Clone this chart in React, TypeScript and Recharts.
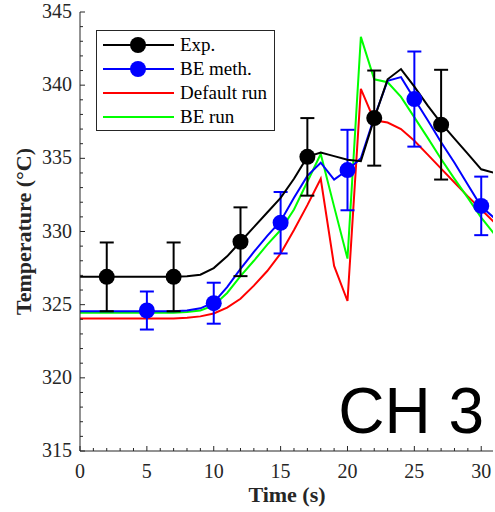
import React from 'react';
import { ComposedChart, Line, Scatter, XAxis, YAxis, ErrorBar, Customized } from 'recharts';

// Time axis (s) for the simulated / fitted curves
const times = [0, 1, 2, 3, 4, 5, 6, 7, 8, 9, 10, 11, 12, 13, 14, 15, 16, 17, 18, 19, 20, 21, 22, 23, 24, 25, 26, 27, 28, 29, 30, 31];
// Exp. continuous curve (black)
const expLine = [326.9, 326.9, 326.9, 326.9, 326.9, 326.9, 326.9, 326.9, 326.95, 327.05, 327.5, 328.3, 329.3, 330.3, 331.3, 332.3, 333.6, 335.1, 335.4, 335.15, 334.9, 334.8, 337.7, 340.4, 341.1, 339.9, 338.6, 337.4, 336.35, 335.3, 334.25, 334.0];
// BE meth. curve (blue)
const beMethLine = [324.55, 324.55, 324.55, 324.55, 324.55, 324.55, 324.55, 324.55, 324.6, 324.75, 325.15, 326.2, 327.45, 328.6, 329.7, 330.7, 332.3, 333.8, 334.7, 333.55, 334.2, 335.0, 337.8, 340.3, 340.55, 339.05, 337.6, 336.1, 334.7, 333.2, 331.7, 330.9];
// Default run (red)
const defaultRun = [324.05, 324.05, 324.05, 324.05, 324.05, 324.05, 324.05, 324.05, 324.1, 324.2, 324.4, 324.8, 325.4, 326.3, 327.3, 328.5, 330.1, 331.8, 333.6, 327.65, 325.25, 339.75, 337.6, 337.45, 337.0, 336.2, 335.25, 334.3, 333.35, 332.4, 331.5, 330.6];
// BE run (green)
const beRun = [324.45, 324.45, 324.45, 324.45, 324.45, 324.45, 324.45, 324.45, 324.5, 324.6, 324.95, 325.8, 326.95, 328.0, 329.1, 330.1, 331.5, 333.4, 335.3, 331.7, 328.15, 343.3, 340.4, 340.2, 339.2, 337.8, 336.4, 334.95, 333.6, 332.3, 330.95, 329.8];

// Measured points with error bars
const expTimes = [2, 7, 12, 17, 22, 27];
const expValues = [326.9, 326.9, 329.3, 335.1, 337.75, 337.3];
const expErrors = [2.35, 2.35, 2.35, 2.65, 3.25, 3.75];

const beTimes = [5, 10, 15, 20, 25, 30];
const beValues = [324.6, 325.1, 330.6, 334.2, 339.05, 331.75];
const beErrors = [1.3, 1.4, 2.1, 2.75, 3.25, 2.0];

const xTicks = Array.from({ length: 31 }, (_, i) => i); // 0..30
const yTicks = Array.from({ length: 31 }, (_, i) => 315 + i); // 315..345

const legendLabels = ['Exp.', 'BE meth.', 'Default run', 'BE run'];
const legendColors = ['#000000', '#0000ff', '#ff0000', '#00ff00'];
const legendMarkers = [true, true, false, false];

const toLine = (vals: number[]) => times.map((t, i) => ({ t, v: vals[i] }));
const toPts = (ts: number[], vs: number[], es: number[]) => ts.map((t, i) => ({ t, v: vs[i], e: es[i] }));

const AX = '#262626';
const SERIF = '"Liberation Serif", "Times New Roman", serif';

const BottomTick = (props: any) => {
  const { x, y, payload } = props;
  const v = payload.value;
  const major = v % 5 === 0;
  return (
    <g>
      <line x1={x} x2={x} y1={y} y2={y - (major ? 5 : 3)} stroke={AX} strokeWidth={1} />
      {major && (
        <text x={x} y={y + 26.5} textAnchor="middle" fontSize={20} fontFamily={SERIF} fill={AX}>
          {v}
        </text>
      )}
    </g>
  );
};

const TopTick = (props: any) => {
  const { x, y, payload } = props;
  const major = payload.value % 5 === 0;
  return <line x1={x} x2={x} y1={y} y2={y + (major ? 5 : 3)} stroke={AX} strokeWidth={1} />;
};

const LeftTick = (props: any) => {
  const { x, y, payload } = props;
  const v = payload.value;
  const major = v % 5 === 0;
  return (
    <g>
      <line x1={x} x2={x + (major ? 5 : 3)} y1={y} y2={y} stroke={AX} strokeWidth={1} />
      {major && (
        <text x={x - 8} y={y + 6} textAnchor="end" fontSize={20} fontFamily={SERIF} fill={AX}>
          {v}
        </text>
      )}
    </g>
  );
};

const RightTick = (props: any) => {
  const { x, y, payload } = props;
  const major = payload.value % 5 === 0;
  return <line x1={x} x2={x - (major ? 5 : 3)} y1={y} y2={y} stroke={AX} strokeWidth={1} />;
};

const Decorations = () => {
  const rowY = [45, 69, 93, 117];
  return (
    <g>
      <text
        transform="translate(31, 231.5) rotate(-90)"
        textAnchor="middle"
        fontSize={22}
        fontWeight="bold"
        fontFamily={SERIF}
        fill={AX}
      >
        Temperature (°C)
      </text>
      <text x={287} y={502} textAnchor="middle" fontSize={22} fontWeight="bold" fontFamily={SERIF} fill={AX}>
        Time (s)
      </text>
      <text
        x={484}
        y={432.5}
        textAnchor="end"
        fontSize={64}
        fontFamily='"Liberation Sans", Arial, sans-serif'
        fill="#000"
      >
        CH 3
      </text>
      <rect x={96.5} y={30.5} width={178} height={100} fill="#fff" stroke={AX} strokeWidth={1} />
      {legendLabels.map((lab, i) => (
        <g key={lab}>
          <line x1={103} x2={174} y1={rowY[i]} y2={rowY[i]} stroke={legendColors[i]} strokeWidth={2} />
          {legendMarkers[i] && <circle cx={138} cy={rowY[i]} r={8} fill={legendColors[i]} />}
          <text x={180} y={rowY[i] + 6.3} fontSize={19} fontFamily={SERIF} fill="#000">
            {lab}
          </text>
        </g>
      ))}
    </g>
  );
};

const Dot = (color: string) => (props: any) => {
  const { cx, cy } = props;
  if (cx == null || cy == null) return null;
  return <circle cx={cx} cy={cy} r={8} fill={color} />;
};

export default function App() {
  const xDomain: [number, number] = [0, 30.88];
  const yDomain: [number, number] = [315, 345];
  return (
    <div style={{ position: 'absolute', left: 0, top: 0, background: '#fff' }}>
      <ComposedChart width={495} height={512} margin={{ top: 12, right: 2, bottom: 0, left: 0 }}>
        <XAxis
          xAxisId="b"
          dataKey="t"
          type="number"
          orientation="bottom"
          domain={xDomain}
          allowDataOverflow
          ticks={xTicks}
          interval={0}
          height={61}
          tickSize={0}
          tickMargin={0}
          tickLine={false}
          tick={<BottomTick />}
          axisLine={{ stroke: AX, strokeWidth: 1 }}
        />
        <XAxis
          xAxisId="t"
          type="number"
          orientation="top"
          domain={xDomain}
          allowDataOverflow
          ticks={xTicks}
          interval={0}
          height={0}
          tickSize={0}
          tickMargin={0}
          tickLine={false}
          tick={<TopTick />}
          axisLine={{ stroke: AX, strokeWidth: 1 }}
        />
        <YAxis
          yAxisId="l"
          dataKey="v"
          type="number"
          orientation="left"
          domain={yDomain}
          allowDataOverflow
          ticks={yTicks}
          interval={0}
          width={80}
          tickSize={0}
          tickMargin={0}
          tickLine={false}
          tick={<LeftTick />}
          axisLine={{ stroke: AX, strokeWidth: 1 }}
        />
        <YAxis
          yAxisId="r"
          type="number"
          orientation="right"
          domain={yDomain}
          allowDataOverflow
          ticks={yTicks}
          interval={0}
          width={0}
          tickSize={0}
          tickMargin={0}
          tickLine={false}
          tick={<RightTick />}
          axisLine={{ stroke: AX, strokeWidth: 1 }}
        />
        <Line
          xAxisId="b"
          yAxisId="l"
          data={toLine(defaultRun)}
          dataKey="v"
          type="linear"
          stroke="#ff0000"
          strokeWidth={2}
          dot={false}
          activeDot={false}
          isAnimationActive={false}
        />
        <Line
          xAxisId="b"
          yAxisId="l"
          data={toLine(beRun)}
          dataKey="v"
          type="linear"
          stroke="#00ff00"
          strokeWidth={2}
          dot={false}
          activeDot={false}
          isAnimationActive={false}
        />
        <Line
          xAxisId="b"
          yAxisId="l"
          data={toLine(beMethLine)}
          dataKey="v"
          type="linear"
          stroke="#0000ff"
          strokeWidth={2}
          dot={false}
          activeDot={false}
          isAnimationActive={false}
        />
        <Scatter
          xAxisId="b"
          yAxisId="l"
          data={toPts(beTimes, beValues, beErrors)}
          dataKey="v"
          fill="#0000ff"
          shape={Dot('#0000ff')}
          isAnimationActive={false}
        >
          <ErrorBar dataKey="e" direction="y" width={7} stroke="#0000ff" strokeWidth={2} isAnimationActive={false} />
        </Scatter>
        <Line
          xAxisId="b"
          yAxisId="l"
          data={toLine(expLine)}
          dataKey="v"
          type="linear"
          stroke="#000000"
          strokeWidth={2}
          dot={false}
          activeDot={false}
          isAnimationActive={false}
        />
        <Scatter
          xAxisId="b"
          yAxisId="l"
          data={toPts(expTimes, expValues, expErrors)}
          dataKey="v"
          fill="#000000"
          shape={Dot('#000000')}
          isAnimationActive={false}
        >
          <ErrorBar dataKey="e" direction="y" width={7} stroke="#000000" strokeWidth={2} isAnimationActive={false} />
        </Scatter>
        <Customized component={Decorations} />
      </ComposedChart>
    </div>
  );
}
